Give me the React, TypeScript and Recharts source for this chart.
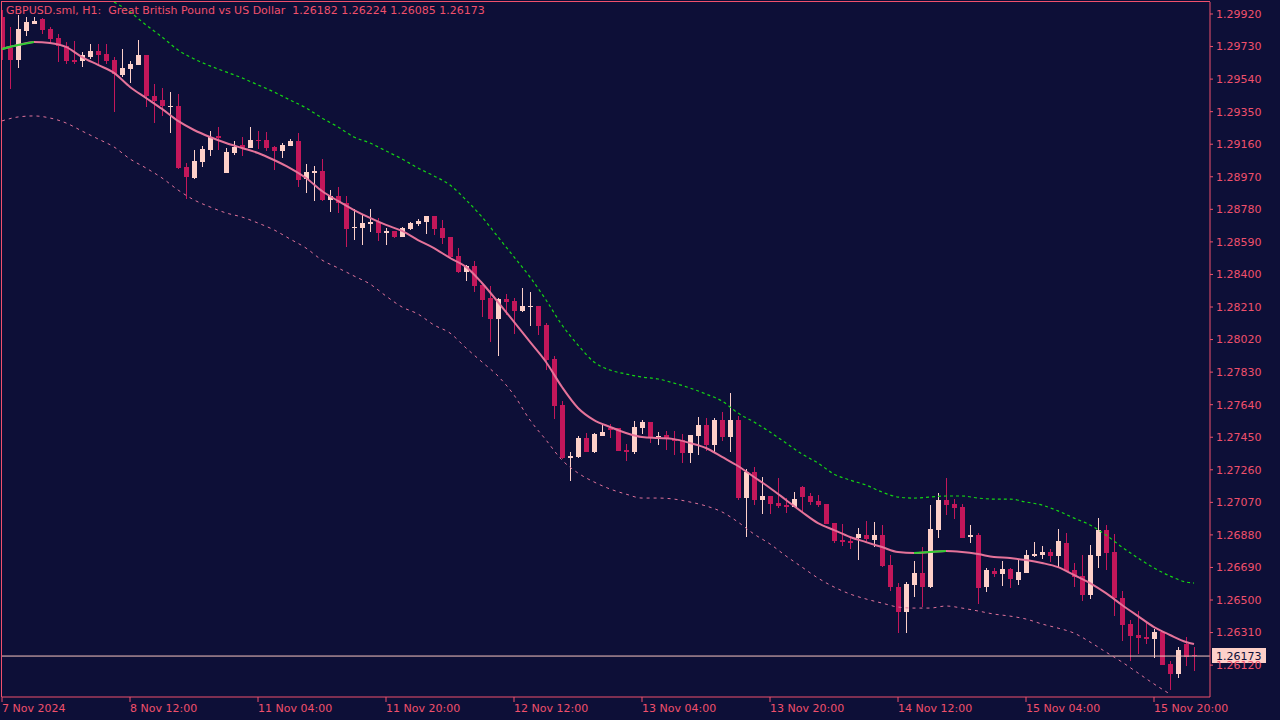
import { Bar, ComposedChart, Line, ReferenceLine, XAxis, YAxis } from "recharts";

const BG = "#0d0f37";
const AXIS = "#f0506c";
const BULL = "#fdd0c9";
const BEAR = "#c3175a";
const MA = "#e5739a";
const MA_UP = "#32cd32";
const BAND_UP = "#14d414";
const BAND_LO = "#e0729a";
const LAST_LINE = "#f7c6c0";
const FONT = "DejaVu Sans, sans-serif";

// GBPUSD H1, one entry per hourly bar (7 Nov 20:00 .. 15 Nov 21:00)
const opens = [
  1.29903, 1.29722, 1.29652, 1.29821, 1.29862, 1.29891, 1.29833, 1.2978, 1.29734, 1.29652,
  1.29646, 1.29669, 1.29704, 1.29687, 1.29652, 1.29564, 1.29599, 1.29623, 1.29681, 1.29442,
  1.29418, 1.29377, 1.29383, 1.29027, 1.28963, 1.29056, 1.29126, 1.29208, 1.28992, 1.29109,
  1.29156, 1.29138, 1.29185, 1.29185, 1.29144, 1.29121, 1.2915, 1.29179, 1.28957, 1.28992,
  1.29004, 1.28835, 1.28858, 1.28817, 1.28671, 1.28671, 1.28695, 1.28706, 1.28642, 1.28654,
  1.28619, 1.28665, 1.28695, 1.28706, 1.28741, 1.28671, 1.28619, 1.28508, 1.28414, 1.28449,
  1.28338, 1.28263, 1.2814, 1.28257, 1.28245, 1.28187, 1.2821, 1.28216, 1.28105, 1.27907,
  1.27638, 1.27329, 1.27335, 1.27445, 1.27364, 1.27457, 1.27504, 1.27504, 1.27375, 1.27364,
  1.27504, 1.27539, 1.27451, 1.27463, 1.27439, 1.27434, 1.27358, 1.27457, 1.27521, 1.27405,
  1.2755, 1.27451, 1.2755, 1.27095, 1.27247, 1.27084, 1.27107, 1.27066, 1.27054, 1.27043,
  1.27159, 1.27107, 1.27078, 1.2706, 1.26949, 1.2685, 1.26844, 1.26862, 1.26879, 1.2685,
  1.26879, 1.26704, 1.26576, 1.2643, 1.26587, 1.26657, 1.26576, 1.26908, 1.27084, 1.2706,
  1.27043, 1.26868, 1.26879, 1.26576, 1.26669, 1.26652, 1.26681, 1.26617, 1.26657, 1.26757,
  1.26763, 1.2678, 1.26757, 1.26832, 1.26675, 1.2664, 1.26529, 1.26757, 1.26908, 1.2678,
  1.26512, 1.2636, 1.26296, 1.26284, 1.26272, 1.26313, 1.26126, 1.26068, 1.26243, 1.26182,
];
const highs = [
  1.29944, 1.29844, 1.29914, 1.29903, 1.29903, 1.29897, 1.29844, 1.29804, 1.29757, 1.29763,
  1.29699, 1.29745, 1.29745, 1.29745, 1.29669, 1.29716, 1.29646, 1.29769, 1.29681, 1.29512,
  1.29488, 1.29465, 1.29453, 1.29051, 1.29126, 1.2915, 1.29237, 1.29261, 1.29138, 1.29179,
  1.29202, 1.29261, 1.29237, 1.29232, 1.2915, 1.29167, 1.29191, 1.29226, 1.29045, 1.29033,
  1.29074, 1.28893, 1.28911, 1.28858, 1.28782, 1.28753, 1.28782, 1.2873, 1.28671, 1.28654,
  1.28677, 1.28706, 1.28724, 1.28741, 1.28741, 1.28718, 1.28619, 1.28554, 1.28455, 1.28479,
  1.28338, 1.28333, 1.28263, 1.28286, 1.28263, 1.28321, 1.28298, 1.28216, 1.28117, 1.27924,
  1.27661, 1.27364, 1.27457, 1.27475, 1.27475, 1.27521, 1.27527, 1.27504, 1.2741, 1.27545,
  1.2755, 1.27539, 1.2748, 1.27486, 1.27486, 1.27469, 1.27463, 1.27568, 1.27562, 1.27562,
  1.27597, 1.27708, 1.27574, 1.27264, 1.27276, 1.27218, 1.27107, 1.27212, 1.27095, 1.2713,
  1.27165, 1.27124, 1.27113, 1.2706, 1.26949, 1.26943, 1.26862, 1.2692, 1.26961, 1.26955,
  1.26938, 1.26763, 1.26599, 1.26605, 1.26727, 1.26809, 1.27054, 1.27124, 1.27212, 1.27089,
  1.2706, 1.26938, 1.26891, 1.26687, 1.26687, 1.26727, 1.26687, 1.26733, 1.26792, 1.26838,
  1.26815, 1.26798, 1.26914, 1.26891, 1.26716, 1.26763, 1.26821, 1.26978, 1.26938, 1.26885,
  1.26552, 1.26383, 1.26436, 1.26371, 1.26331, 1.26319, 1.26144, 1.26225, 1.26284, 1.26224,
];
const lows = [
  1.29652, 1.29483, 1.29605, 1.29792, 1.29862, 1.29804, 1.29751, 1.2964, 1.29628, 1.29628,
  1.29611, 1.29658, 1.29623, 1.29628, 1.29348, 1.29553, 1.29518, 1.29623, 1.29377, 1.29284,
  1.29325, 1.29226, 1.29016, 1.2884, 1.28957, 1.29027, 1.29091, 1.29126, 1.28992, 1.29097,
  1.29091, 1.29138, 1.29132, 1.29121, 1.2901, 1.2908, 1.2915, 1.28911, 1.28875, 1.28829,
  1.28829, 1.28765, 1.28759, 1.2856, 1.28601, 1.28572, 1.28648, 1.28595, 1.28572, 1.28613,
  1.28619, 1.2866, 1.28683, 1.28636, 1.2863, 1.28578, 1.28496, 1.28408, 1.28362, 1.28298,
  1.28152, 1.28006, 1.27924, 1.28163, 1.28052, 1.28181, 1.28099, 1.28047, 1.27842, 1.27556,
  1.27323, 1.27194, 1.27329, 1.27364, 1.27358, 1.27457, 1.27445, 1.2737, 1.27311, 1.27352,
  1.27469, 1.27416, 1.27405, 1.27375, 1.27346, 1.27299, 1.27299, 1.27346, 1.2737, 1.27364,
  1.27428, 1.27364, 1.27084, 1.26868, 1.27054, 1.27002, 1.27002, 1.27037, 1.27008, 1.27043,
  1.27008, 1.27054, 1.27043, 1.26943, 1.26832, 1.26815, 1.26798, 1.26733, 1.26832, 1.26809,
  1.26692, 1.26552, 1.26307, 1.26307, 1.26517, 1.26459, 1.2657, 1.26862, 1.26996, 1.26973,
  1.26862, 1.26832, 1.26477, 1.26546, 1.26634, 1.26582, 1.2657, 1.26587, 1.26657, 1.26751,
  1.26739, 1.26722, 1.26687, 1.26669, 1.26576, 1.26494, 1.26506, 1.26687, 1.26675, 1.26406,
  1.2626, 1.26144, 1.26185, 1.26243, 1.26161, 1.2612, 1.25975, 1.26044, 1.26115, 1.26085,
];
const closes = [
  1.29722, 1.29652, 1.29833, 1.29874, 1.29879, 1.29827, 1.29774, 1.29734, 1.29646, 1.2964,
  1.29681, 1.29704, 1.29681, 1.29646, 1.2957, 1.29605, 1.29628, 1.29681, 1.29442, 1.29413,
  1.29383, 1.29383, 1.29021, 1.28969, 1.29062, 1.29132, 1.29202, 1.29197, 1.29115, 1.29144,
  1.29138, 1.29185, 1.29179, 1.29138, 1.29121, 1.29156, 1.29179, 1.28951, 1.28998, 1.29004,
  1.28835, 1.28858, 1.28817, 1.28665, 1.28677, 1.287, 1.28706, 1.28642, 1.28654, 1.28619,
  1.28671, 1.287, 1.28712, 1.28741, 1.28665, 1.28613, 1.28502, 1.28414, 1.28449, 1.28333,
  1.28251, 1.2814, 1.28257, 1.28239, 1.28187, 1.28216, 1.28216, 1.28099, 1.27901, 1.27632,
  1.27329, 1.2734, 1.27445, 1.27364, 1.27469, 1.2748, 1.27492, 1.2737, 1.27364, 1.2751,
  1.27539, 1.27451, 1.27457, 1.27439, 1.27428, 1.27358, 1.27463, 1.27521, 1.27405, 1.2755,
  1.27451, 1.2755, 1.27095, 1.27247, 1.27084, 1.27107, 1.2706, 1.27049, 1.27043, 1.27089,
  1.27101, 1.27072, 1.27054, 1.26943, 1.26844, 1.26838, 1.26832, 1.26885, 1.26856, 1.26879,
  1.26698, 1.26576, 1.2643, 1.26593, 1.26657, 1.26576, 1.26914, 1.27084, 1.27054, 1.27037,
  1.26862, 1.26879, 1.2657, 1.26675, 1.26652, 1.26681, 1.26622, 1.26663, 1.26763, 1.26768,
  1.2678, 1.26757, 1.26844, 1.26669, 1.26634, 1.26529, 1.26763, 1.26908, 1.26774, 1.26512,
  1.26354, 1.2629, 1.26278, 1.26272, 1.26313, 1.2612, 1.26068, 1.26208, 1.26167, 1.26173,
];

// indicator readings: [bar index, price]
const maLine: [number, number][] = [
  [0, 1.29716], [2, 1.29739], [4, 1.29757], [6, 1.29751], [8, 1.29728], [10, 1.29669],
  [12, 1.29623], [14, 1.29576], [16, 1.29494], [18, 1.2943], [20, 1.29366], [22, 1.29296],
  [24, 1.29243], [26, 1.29202], [28, 1.29167], [30, 1.29138], [32, 1.29109], [34, 1.29068],
  [36, 1.29021], [38, 1.28963], [40, 1.28887], [42, 1.28829], [44, 1.28776], [46, 1.2873],
  [48, 1.28689], [50, 1.28654], [52, 1.28601], [54, 1.28554], [56, 1.28496], [58, 1.28444],
  [60, 1.2835], [62, 1.28239], [64, 1.28123], [66, 1.28006], [68, 1.27889], [70, 1.27743],
  [72, 1.27621], [74, 1.2755], [76, 1.2751], [78, 1.27475], [80, 1.27451], [82, 1.27445],
  [84, 1.27439], [86, 1.27416], [88, 1.27387], [90, 1.27335], [92, 1.27282], [94, 1.27218],
  [96, 1.27154], [98, 1.27084], [100, 1.27014], [102, 1.26949], [104, 1.26908], [106, 1.26868],
  [108, 1.26838], [110, 1.26809], [112, 1.2678], [114, 1.26774], [116, 1.2678], [118, 1.26786],
  [120, 1.2678], [122, 1.26768], [124, 1.26751], [126, 1.26745], [128, 1.26733], [130, 1.26716],
  [132, 1.26692], [134, 1.26646], [136, 1.26599], [138, 1.2654], [140, 1.26471], [142, 1.26406],
  [144, 1.26342], [146, 1.26296], [148, 1.26255], [149, 1.26243],
];
const maRiseA: [number, number][] = [[0, 1.29716], [2, 1.29739], [4, 1.29757]];
const maRiseB: [number, number][] = [[114, 1.26774], [116, 1.2678], [118, 1.26786]];

const upperBand: [number, number][] = [
  [14, 1.2999], [16, 1.29932], [18, 1.29856], [20, 1.29786], [22, 1.2971], [24, 1.29658],
  [26, 1.29617], [28, 1.29582], [30, 1.29547], [32, 1.29506], [34, 1.29465], [36, 1.29418],
  [38, 1.29372], [40, 1.29313], [42, 1.29261], [44, 1.29202], [46, 1.29167], [48, 1.29121],
  [50, 1.29074], [52, 1.29021], [54, 1.28975], [56, 1.28922], [58, 1.28835], [60, 1.28735],
  [62, 1.28619], [64, 1.28502], [66, 1.28385], [68, 1.28251], [70, 1.28105], [72, 1.27988],
  [74, 1.27889], [76, 1.27842], [78, 1.27819], [80, 1.27801], [82, 1.2779], [84, 1.27766],
  [86, 1.27737], [88, 1.27702], [90, 1.27661], [92, 1.27591], [94, 1.27539], [96, 1.2748],
  [98, 1.27416], [100, 1.27352], [102, 1.27299], [104, 1.27235], [106, 1.272], [108, 1.27171],
  [110, 1.2713], [112, 1.27101], [114, 1.27095], [116, 1.27101], [118, 1.27107], [120, 1.27107],
  [122, 1.27095], [124, 1.27089], [126, 1.27089], [128, 1.27072], [130, 1.27054], [132, 1.2702],
  [134, 1.26978], [136, 1.26938], [138, 1.26879], [140, 1.26809], [142, 1.26745], [144, 1.26687],
  [146, 1.2664], [148, 1.26605], [149, 1.26599],
];
const lowerBand: [number, number][] = [
  [0, 1.29296], [2, 1.29319], [4, 1.29325], [6, 1.29313], [8, 1.29284], [10, 1.29237],
  [12, 1.29191], [14, 1.29144], [16, 1.29074], [18, 1.29021], [20, 1.28963], [22, 1.28893],
  [24, 1.28835], [26, 1.28794], [28, 1.28759], [30, 1.28735], [32, 1.287], [34, 1.2866],
  [36, 1.28607], [38, 1.28554], [40, 1.28484], [42, 1.28438], [44, 1.28391], [46, 1.28344],
  [48, 1.28274], [50, 1.2821], [52, 1.28169], [54, 1.28105], [56, 1.28058], [58, 1.27971],
  [60, 1.27889], [62, 1.27807], [64, 1.27696], [66, 1.2755], [68, 1.27434], [70, 1.27317],
  [72, 1.27241], [74, 1.27189], [76, 1.27148], [78, 1.27118], [80, 1.27095], [82, 1.27095],
  [84, 1.27089], [86, 1.27072], [88, 1.27049], [90, 1.27014], [92, 1.26955], [94, 1.26885],
  [96, 1.26827], [98, 1.26757], [100, 1.26692], [102, 1.26628], [104, 1.26576], [106, 1.26535],
  [108, 1.26506], [110, 1.26482], [112, 1.26459], [114, 1.26453], [116, 1.26453], [118, 1.26465],
  [120, 1.26453], [122, 1.26436], [124, 1.26418], [126, 1.26406], [128, 1.26389], [130, 1.2636],
  [132, 1.26336], [134, 1.26307], [136, 1.26255], [138, 1.26196], [140, 1.26138], [142, 1.26074],
  [144, 1.2601], [146, 1.25951],
];

const priceTicks = [
  1.2612, 1.2631, 1.265, 1.2669, 1.2688, 1.2707, 1.2726, 1.2745, 1.2764, 1.2783, 1.2802,
  1.2821, 1.284, 1.2859, 1.2878, 1.2897, 1.2916, 1.2935, 1.2954, 1.2973, 1.2992,
];
const timeTicks = [0, 16, 32, 48, 64, 80, 96, 112, 128, 144];
const timeLabels = [
  "7 Nov 2024", "8 Nov 12:00", "11 Nov 04:00", "11 Nov 20:00", "12 Nov 12:00",
  "13 Nov 04:00", "13 Nov 20:00", "14 Nov 12:00", "15 Nov 04:00", "15 Nov 20:00",
];

const last = closes[closes.length - 1];
const title = `GBPUSD.sml, H1:  Great British Pound vs US Dollar  ${opens[149].toFixed(5)} ${highs[149].toFixed(5)} ${lows[149].toFixed(5)} ${last.toFixed(5)}`;

const toMap = (pairs: [number, number][]) => new Map(pairs);
const maMap = toMap(maLine);
const riseA = toMap(maRiseA);
const riseB = toMap(maRiseB);
const upMap = toMap(upperBand);
const loMap = toMap(lowerBand);

const data = opens.map((o, i) => ({
  i,
  o,
  h: highs[i],
  l: lows[i],
  c: closes[i],
  range: [lows[i], highs[i]],
  ma: maMap.get(i) ?? null,
  ra: riseA.get(i) ?? null,
  rb: riseB.get(i) ?? null,
  up: upMap.get(i) ?? null,
  lo: loMap.get(i) ?? null,
}));

function Candle(props: any) {
  const { x, y, width, height, payload } = props;
  const { o, h, l, c } = payload;
  const top = Math.min(y, y + height);
  const span = Math.abs(height);
  const py = (p: number) => (h === l ? top : top + ((h - p) / (h - l)) * span);
  const color = c >= o ? BULL : BEAR;
  const cx = Math.round(x + width / 2);
  const bTop = Math.round(py(Math.max(o, c)));
  const bBot = Math.round(py(Math.min(o, c)));
  return (
    <g shapeRendering="crispEdges">
      <rect x={cx} y={Math.round(top)} width={1} height={Math.max(1, Math.round(span))} fill={color} />
      <rect x={cx - 2} y={bTop} width={5} height={Math.max(1, bBot - bTop)} fill={color} />
    </g>
  );
}

function TimeTick(props: any) {
  const { x, y, payload } = props;
  const k = timeTicks.indexOf(payload.value);
  return (
    <text x={x} y={y} dy="0.71em" textAnchor="start" fill={AXIS} fontSize={11} fontFamily={FONT}>
      {timeLabels[k]}
    </text>
  );
}

function LastLabel(props: any) {
  const vb = props.viewBox;
  const x = vb.x + vb.width + 2;
  const y = vb.y;
  return (
    <g>
      <rect x={x} y={y - 8} width={54} height={15} fill={BULL} shapeRendering="crispEdges" />
      <text x={x + 4} y={y + 4} fill={BG} fontSize={11} fontFamily={FONT}>
        {last.toFixed(5)}
      </text>
    </g>
  );
}

export default function App() {
  return (
    <div style={{ position: "fixed", left: 0, top: 0, width: 1280, height: 720, background: BG }}>
      <ComposedChart width={1280} height={720} data={data} margin={{ top: 2, right: 0, bottom: 0, left: 2 }}>
        <XAxis
          dataKey="i"
          type="number"
          domain={[0, 151]}
          ticks={timeTicks}
          interval={0}
          height={23}
          tickSize={5}
          tickMargin={2}
          stroke={AXIS}
          tick={<TimeTick />}
          allowDataOverflow
        />
        <YAxis
          orientation="right"
          type="number"
          domain={[1.25934, 1.2999]}
          ticks={priceTicks}
          interval={0}
          width={70}
          tickSize={3}
          tickMargin={3}
          stroke={AXIS}
          allowDataOverflow
          tick={{ fill: AXIS, fontSize: 11, fontFamily: FONT }}
          tickFormatter={(v: number) => v.toFixed(5)}
        />
        <ReferenceLine y={last} stroke={LAST_LINE} strokeWidth={1} label={<LastLabel />} />
        <Line dataKey="lo" type="monotone" stroke={BAND_LO} strokeWidth={1} strokeDasharray="3 4" dot={false} connectNulls isAnimationActive={false} />
        <Line dataKey="up" type="monotone" stroke={BAND_UP} strokeWidth={1.2} strokeDasharray="3 3" dot={false} connectNulls isAnimationActive={false} />
        <Bar dataKey="range" barSize={5} shape={<Candle />} isAnimationActive={false} />
        <Line dataKey="ma" type="monotone" stroke={MA} strokeWidth={2} dot={false} connectNulls isAnimationActive={false} />
        <Line dataKey="ra" type="monotone" stroke={MA_UP} strokeWidth={2} dot={false} connectNulls isAnimationActive={false} />
        <Line dataKey="rb" type="monotone" stroke={MA_UP} strokeWidth={2} dot={false} connectNulls isAnimationActive={false} />
      </ComposedChart>
      <div style={{ position: "absolute", left: 1, top: 1, width: 1208, height: 695, borderLeft: `1px solid ${AXIS}`, borderTop: `1px solid ${AXIS}`, pointerEvents: "none" }} />
      <div style={{ position: "absolute", left: 6, top: 4, color: AXIS, fontSize: 11, fontFamily: FONT, whiteSpace: "pre", lineHeight: "14px" }}>
        {title}
      </div>
    </div>
  );
}
